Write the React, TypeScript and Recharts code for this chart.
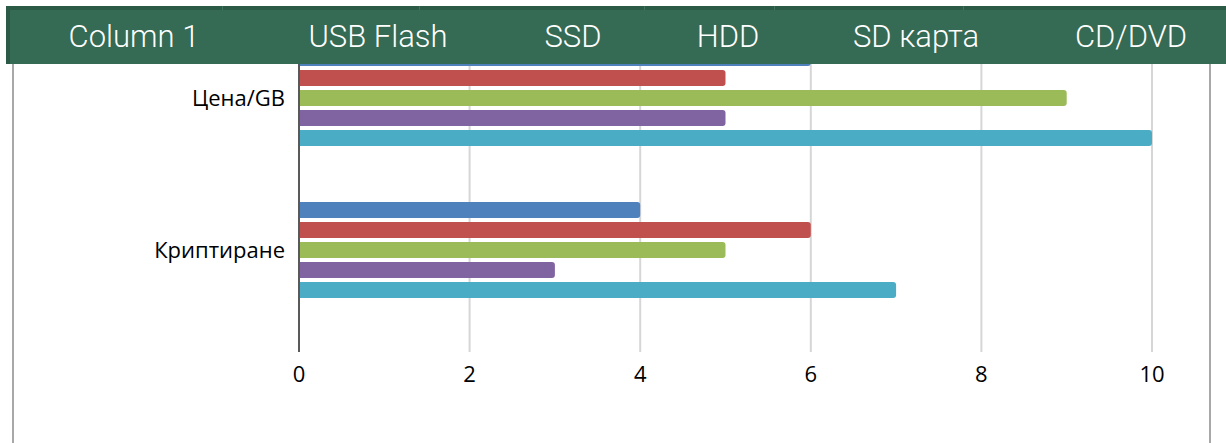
import { BarChart, Bar, XAxis, YAxis, CartesianGrid } from "recharts";

const categories = ["Цена/GB", "Криптиране"];
const headerLabels = ["Column 1", "USB Flash", "SSD", "HDD", "SD карта", "CD/DVD"];
const usbFlash = [6, 4];
const ssd = [5, 6];
const hdd = [9, 5];
const sdCard = [5, 3];
const cdDvd = [10, 7];
const xTicks = [0, 2, 4, 6, 8, 10];

const series = [
  { key: "usb", name: "USB Flash", values: usbFlash, color: "#4F81BD" },
  { key: "ssd", name: "SSD", values: ssd, color: "#C0504D" },
  { key: "hdd", name: "HDD", values: hdd, color: "#9BBB59" },
  { key: "sd", name: "SD карта", values: sdCard, color: "#8064A2" },
  { key: "cd", name: "CD/DVD", values: cdDvd, color: "#4BACC6" },
];

const data = categories.map((name, i) => {
  const row: Record<string, string | number> = { name };
  series.forEach((s) => {
    row[s.key] = s.values[i];
  });
  return row;
});

// header column centres and the faint dividers in the top strip
const headerCenters = [134, 378, 573, 728, 916, 1131];
const headerDividers = [222, 419, 644, 774, 963];

const tickFont = { fontFamily: "'Open Sans', sans-serif", fontSize: 22, fill: "#000" };

export default function App() {
  return (
    <div
      style={{
        position: "absolute",
        left: 0,
        top: 0,
        width: 1226,
        height: 443,
        overflow: "hidden",
        background: "#fff",
      }}
    >
      <BarChart
        width={1226}
        height={443}
        data={data}
        layout="vertical"
        barSize={16}
        barGap={4}
        margin={{ top: 22, right: 74, bottom: 61, left: 13 }}
      >
        <CartesianGrid horizontal={false} stroke="#d6d6d6" strokeWidth={2} />
        <XAxis
          type="number"
          domain={[0, 10]}
          ticks={xTicks}
          axisLine={false}
          tickLine={false}
          height={30}
          tickMargin={8}
          tick={tickFont}
        />
        <YAxis
          type="category"
          dataKey="name"
          width={286}
          axisLine={{ stroke: "#595959", strokeWidth: 2 }}
          tickLine={false}
          tickMargin={8}
          tick={tickFont}
          padding={{ bottom: 26 }}
        />
        {series.map((s) => (
          <Bar
            key={s.key}
            dataKey={s.key}
            name={s.name}
            fill={s.color}
            radius={[0, 3, 3, 0]}
            isAnimationActive={false}
          />
        ))}
      </BarChart>

      {/* chart frame edges */}
      <div style={{ position: "absolute", left: 12, top: 60, width: 2, height: 383, background: "#a8a8a8" }} />
      <div style={{ position: "absolute", left: 1209, top: 60, width: 2, height: 383, background: "#a8a8a8" }} />

      {/* sticky table header laid over the chart */}
      <div
        style={{
          position: "absolute",
          left: 6,
          top: 6,
          width: 1220,
          height: 58,
          background: "#356A54",
          borderTop: "4px solid #2B5A46",
          borderLeft: "4px solid #2B5A46",
          boxSizing: "border-box",
        }}
      >
        {headerDividers.map((x) => (
          <div
            key={x}
            style={{ position: "absolute", left: x - 10, top: -4, width: 1, height: 4, background: "#3E735D" }}
          />
        ))}
        {headerLabels.map((label, i) => (
          <div
            key={label}
            style={{
              position: "absolute",
              left: headerCenters[i] - 10 - 100,
              width: 200,
              top: 0,
              height: 54,
              lineHeight: "54px",
              textAlign: "center",
              color: "#fff",
              fontFamily: "Roboto, sans-serif",
              fontWeight: 300,
              fontSize: 31,
            }}
          >
            {label}
          </div>
        ))}
      </div>
    </div>
  );
}
